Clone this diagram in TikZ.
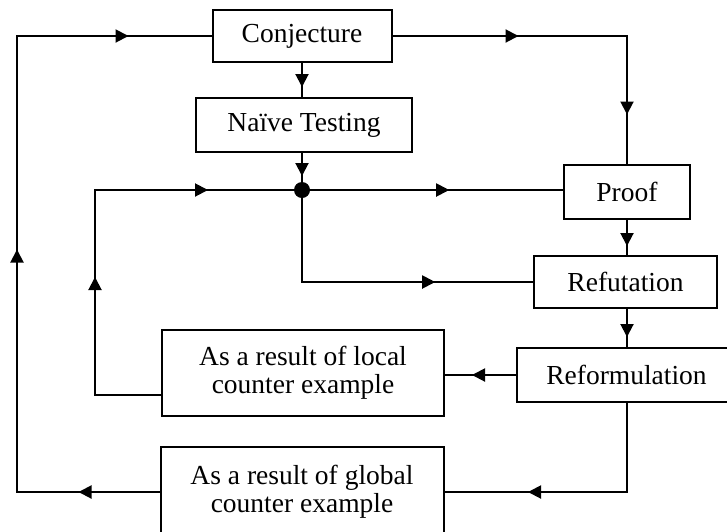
\documentclass[tikz,border=0pt]{standalone}
\usepackage{fontspec}
\setmainfont{Liberation Serif}
\usetikzlibrary{arrows.meta,decorations.markings}

\tikzset{
  box/.style={draw, line width=2pt, inner sep=0pt, align=center,
              font=\fontsize{27.5}{28}\selectfont},
  flow/.style={draw, line width=2pt},
  tipat/.style={postaction={decorate, decoration={markings,
      mark=at position #1 with {\arrow{Triangle[length=13pt,width=13pt]}}}}},
  junction/.style={circle, fill, inner sep=0pt, minimum size=16pt}
}

\begin{document}
\begin{tikzpicture}[x=1pt, y=-1pt]
\useasboundingbox (0,0) rectangle (727,531);

% boxes
\node[box, minimum width=179pt, minimum height=52pt] (conj)  at (302,36)  {Conjecture};
\node[box, minimum width=216pt, minimum height=54pt] (naive) at (304,125) {Naïve Testing};
\node[box, minimum width=126pt, minimum height=54pt] (proof) at (627,192) {Proof};
\node[box, minimum width=183pt, minimum height=52pt] (refu)  at (625.5,282) {Refutation};
\node[box, minimum width=219pt, minimum height=54pt] (refo)  at (626.5,375) {Reformulation};
\node[box, minimum width=282pt, minimum height=86pt] (loc)   at (303,373) {As a result of local\\counter example};
\node[box, minimum width=283pt, minimum height=90pt] (glob)  at (302,492) {As a result of global\\counter example};

\node[junction] (dot) at (302,190) {};

% corner points of the loops
\coordinate (gA) at (17,492);
\coordinate (gB) at (17,36);
\coordinate (lS) at ([yshift=-22pt]loc.west);
\coordinate (lA) at (95,395);
\coordinate (lB) at (95,190);

% connectors
\draw[flow, tipat=81pt, tipat=385pt, tipat=710pt]
  (glob.west) -- (gA) -- (gB) -- (conj.west);
\draw[flow, tipat=126pt, tipat=313pt] (conj.east) -| (proof.north);
\draw[flow, tipat=24pt] (conj.south) -- (conj.south |- naive.north);
\draw[flow, tipat=23pt] (dot |- naive.south) -- (dot);
\draw[flow, tipat=139pt] (dot) -- (dot -| proof.west);
\draw[flow, tipat=184pt, tipat=384pt] (lS) -- (lA) -- (lB) -- (dot);
\draw[flow, tipat=217pt] (dot) |- (refu.west);
\draw[flow, tipat=26pt] (proof.south) -- (proof.south |- refu.north);
\draw[flow, tipat=28pt] (proof.south |- refu.south) -- (proof.south |- refo.north);
\draw[flow, tipat=44pt] (refo.west) -- (refo.west -| loc.east);
\draw[flow, tipat=188pt] (proof.south |- refo.south) |- (glob.east);
\end{tikzpicture}
\end{document}
